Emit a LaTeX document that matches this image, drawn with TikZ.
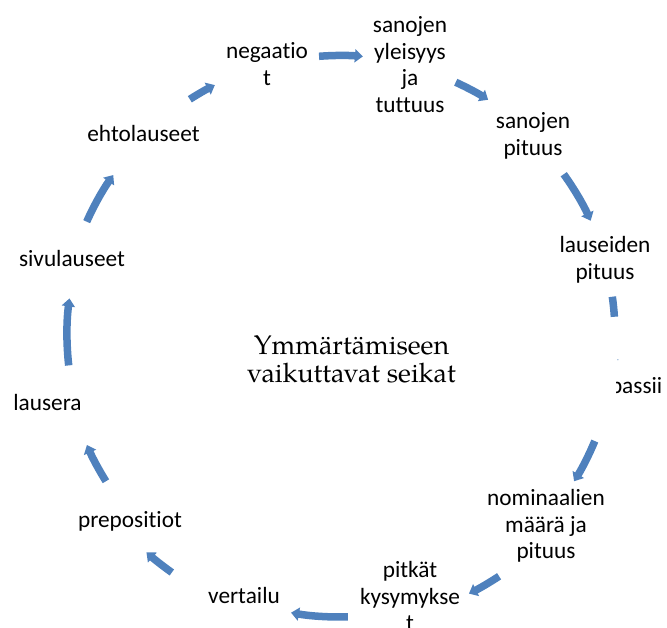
\documentclass[tikz,border=0pt]{standalone}
\usepackage{fontspec}
\usetikzlibrary{arrows.meta,calc}
\setmainfont{texgyrepagella-regular.otf}
\newfontfamily\labelfont[Ligatures={NoCommon}]{Carlito}
\definecolor{cycleblue}{HTML}{4F81BD}
\newcommand{\cyclabel}[1]{{\labelfont\fontsize{23.3pt}{26.5pt}\selectfont
  \begin{tabular}[t]{@{}c@{}}#1\end{tabular}}}
\tikzset{
  cyc/.style={draw=cycleblue, line width=7.5pt, line cap=butt,
    -{Triangle[length=8pt,width=13pt]}},
  cycstub/.style={draw=cycleblue, line width=7.5pt, line cap=butt},
  lbl/.style={anchor=base, inner sep=0pt, outer sep=0pt},
}
\begin{document}
\begin{tikzpicture}[x=1pt,y=1pt]
\useasboundingbox (0,0) rectangle (667,628);
\coordinate (C) at (340,293);

% items of the cycle
\node[lbl] (neg)  at (267,569) {\cyclabel{negaatio\\t}};
\node[lbl] (yle)  at (410,595) {\cyclabel{sanojen\\yleisyys\\ja\\tuttuus}};
\node[lbl] (sp)   at (533,499) {\cyclabel{sanojen\\pituus}};
\node[lbl] (lp)   at (605,375) {\cyclabel{lauseiden\\pituus}};
\begin{scope}
  \clip (616,200) rectangle (667,260);
  \node[lbl, anchor=base west] (pas) at (610,234) {\cyclabel{passii}};
\end{scope}
\node[lbl] (nom)  at (546,122) {\cyclabel{nominaalien\\määrä ja\\pituus}};
\node[lbl] (kys)  at (410,50)  {\cyclabel{pitkät\\kysymykse\\t}};
\node[lbl] (ver)  at (244,24)  {\cyclabel{vertailu}};
\node[lbl] (pre)  at (130,100) {\cyclabel{prepositiot}};
\node[lbl] (lau)  at (47.5,217) {\cyclabel{lausera}};
\node[lbl] (siv)  at (72,361)  {\cyclabel{sivulauseet}};
\node[lbl] (eht)  at (143.5,486) {\cyclabel{ehtolauseet}};

% centre title (base anchor sits on the last line)
\node[anchor=base, inner sep=0pt, align=center,
      font=\fontsize{26.8pt}{28pt}\selectfont] (title) at (351.5,245)
  {Ymmärtämiseen\\vaikuttavat seikat};

% curved arrows between the items
\draw[cyc] ($(C)+(94.3:279.5pt)$) arc[start angle=94.3, end angle=85.3, radius=279.5pt];
\draw[cyc] ($(C)+(65.4:278pt)$) arc[start angle=65.4, end angle=57.8, radius=278pt];
\draw[cyc] ($(C)+(35.7:275.5pt)$) arc[start angle=35.7, end angle=24.5, radius=275.5pt];
\draw[cycstub] ($(C)+(8.0:275pt)$) arc[start angle=8.0, end angle=3.8, radius=275pt];
\fill[cycleblue!60] ($(C)+(-5.1:279pt)$) circle[radius=0.7pt];
\draw[cyc] ($(C)+(-22.6:276pt)$) arc[start angle=-22.6, end angle=-32, radius=276pt];
\draw[cyc] ($(C)+(-56.6:289pt)$) arc[start angle=-56.6, end angle=-63.5, radius=289pt];
\draw[cyc] ($(C)+(-88.4:282pt)$) arc[start angle=-88.4, end angle=-100, radius=282pt];
\draw[cyc] ($(C)+(234.7:291pt)$) arc[start angle=234.7, end angle=228.3, radius=291pt];
\draw[cyc] ($(C)+(212:276pt)$) arc[start angle=212, end angle=203.5, radius=276pt];
\draw[cyc] ($(C)+(186.4:273pt)$) arc[start angle=186.4, end angle=172.3, radius=273pt];
\draw[cyc] ($(C)+(155.9:277.5pt)$) arc[start angle=155.9, end angle=144.8, radius=277.5pt];
\draw[cyc] ($(C)+(122.5:279.5pt)$) arc[start angle=122.5, end angle=116.6, radius=279.5pt];
\end{tikzpicture}
\end{document}
